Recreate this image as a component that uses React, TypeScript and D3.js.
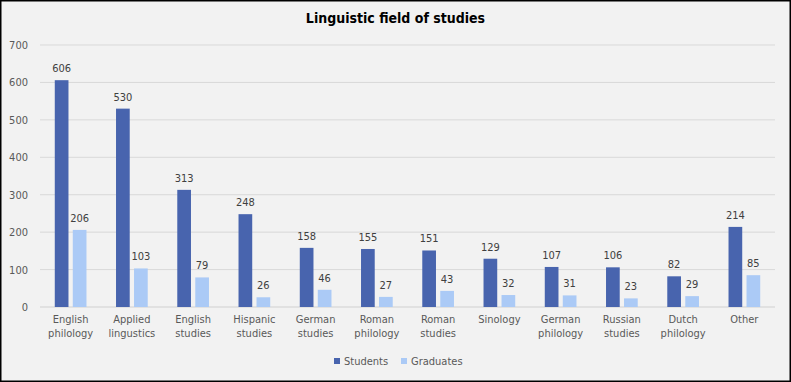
import React from "react";
import * as d3 from "d3";

const categories = [
  ["English", "philology"],
  ["Applied", "lingustics"],
  ["English", "studies"],
  ["Hispanic", "studies"],
  ["German", "studies"],
  ["Roman", "philology"],
  ["Roman", "studies"],
  ["Sinology"],
  ["German", "philology"],
  ["Russian", "studies"],
  ["Dutch", "philology"],
  ["Other"],
];
const students = [606, 530, 313, 248, 158, 155, 151, 129, 107, 106, 82, 214];
const graduates = [206, 103, 79, 26, 46, 27, 43, 32, 31, 23, 29, 85];
const yTicks = [0, 100, 200, 300, 400, 500, 600, 700];
const seriesNames = ["Students", "Graduates"];
const colors = ["#4864ae", "#abcaf6"];

const W = 791;
const H = 382;
const FONT = "'DejaVu Sans Condensed', 'DejaVu Sans', sans-serif";

export default function App() {
  const left = 40;
  const right = 775;
  const top = 45;
  const bottom = 307;
  const x = d3.scaleBand<number>().domain(d3.range(categories.length)).range([left, right]);
  const y = d3.scaleLinear().domain([0, 700]).range([bottom, top]);
  const bw = 13.7;
  const gap = 4.3;
  const series = [students, graduates];

  return (
    <svg
      width={W}
      height={H}
      style={{ position: "absolute", left: 0, top: 0, display: "block" }}
      fontFamily={FONT}
    >
      <rect x={0.75} y={0.75} width={W - 1.5} height={H - 1.5} fill="#f2f2f2" stroke="#000" strokeWidth={1.5} />
      <text x={W / 2} y={23} textAnchor="middle" fontSize={14} fontWeight="bold" fill="#000">
        Linguistic field of studies
      </text>
      {yTicks.map((t) => (
        <g key={t}>
          <line x1={left} x2={right} y1={y(t)} y2={y(t)} stroke={t === 0 ? "#d0d0d0" : "#d9d9d9"} strokeWidth={1} />
          <text x={28} y={y(t) + 4} textAnchor="end" fontSize={11} fill="#595959">
            {t}
          </text>
        </g>
      ))}
      {categories.map((c, i) => {
        const cx = (x(i) as number) + x.bandwidth() / 2;
        return (
          <g key={i}>
            {series.map((s, k) => {
              const bx = k === 0 ? cx - gap / 2 - bw : cx + gap / 2;
              const v = s[i];
              return (
                <g key={k}>
                  <rect x={bx} y={y(v)} width={bw} height={bottom - y(v)} fill={colors[k]} />
                  <text x={bx + bw / 2} y={y(v) - 8} textAnchor="middle" fontSize={11} fill="#404040">
                    {v}
                  </text>
                </g>
              );
            })}
            {c.map((line, j) => (
              <text key={j} x={cx} y={323 + j * 14} textAnchor="middle" fontSize={11} fill="#595959">
                {line}
              </text>
            ))}
          </g>
        );
      })}
      {seriesNames.map((n, k) => {
        const lx = k === 0 ? 334 : 401;
        return (
          <g key={n}>
            <rect x={lx} y={358} width={6} height={6} fill={colors[k]} />
            <text x={lx + 10} y={365} fontSize={11} fill="#595959">
              {n}
            </text>
          </g>
        );
      })}
    </svg>
  );
}
